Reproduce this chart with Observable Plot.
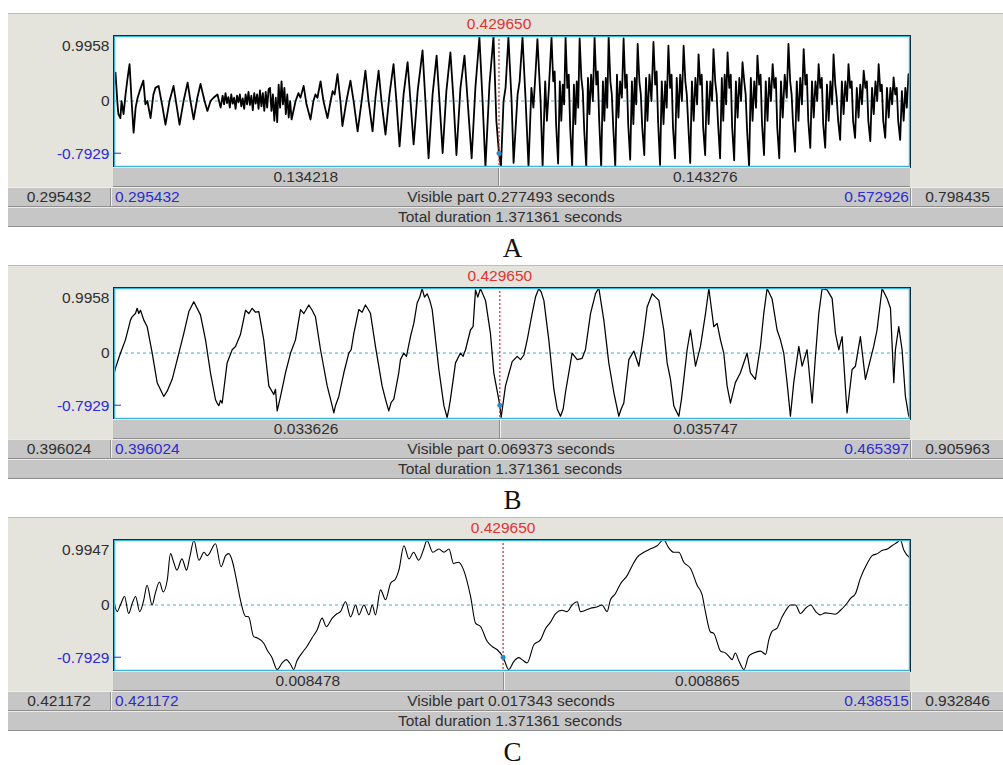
<!DOCTYPE html>
<html><head><meta charset="utf-8">
<script src="https://cdn.jsdelivr.net/npm/d3@7"></script>
<script src="https://cdn.jsdelivr.net/npm/@observablehq/plot@0.6"></script>
<style>
body{margin:0;background:#fff;width:1003px;height:765px;overflow:hidden;position:relative;font-family:"Liberation Sans",Arial,sans-serif;}
.panel{position:absolute;left:8px;width:995px;height:214px;}
.bg{position:absolute;left:0;top:0;width:995px;height:175px;background:#e4e3dc;border-top:1px solid #bdbdb4;box-sizing:border-box;}
.row{position:absolute;height:20px;background:#c6c6c6;border-bottom:1px solid #8e8e8e;border-top:1px solid #ececec;box-sizing:border-box;color:#303030;font-size:15.5px;line-height:18px;white-space:nowrap;}
.cell{position:absolute;top:0;height:18px;text-align:center;overflow:hidden;}
.sep{border-left:1px solid #8e8e8e;box-shadow:inset 1px 0 0 #f0f0f0;}
.blue{color:#2c2cd2;}
.lab{position:absolute;width:200px;text-align:center;font-family:"Liberation Serif","DejaVu Serif",serif;font-size:27px;line-height:22px;height:22px;color:#111;}
</style>
</head><body>
<script>
// ---------- data ----------
const panelNames = ["A", "B", "C"];
const visibleStart = [0.295432, 0.396024, 0.421172];
const visibleEnd = [0.572926, 0.465397, 0.438515];
const visibleDur = [0.277493, 0.069373, 0.017343];
const leftOfCursor = [0.134218, 0.033626, 0.008478];
const rightOfCursor = [0.143276, 0.035747, 0.008865];
const afterWindow = [0.798435, 0.905963, 0.932846];
const yTopLabel = [0.9958, 0.9958, 0.9947];
const yBottom = -1.01;
const cursorTime = 0.429650;
const cursorValue = -0.7929;
const totalDuration = 1.371361;

// waveform samples: [time in ms from visible start, amplitude]
const waveA = [
[0.0,0.15],[0.7,0.43],[1.4,-0.05],[1.7,-0.2],[2.4,-0.26],[2.8,0.0],[3.5,-0.2],[4.2,0.1],[4.9,0.35],[5.6,0.56],[6.3,0.0],[7.0,-0.48],[7.7,-0.1],[8.4,0.05],[9.1,0.15],[10.4,0.31],[11.1,-0.05],[11.8,0.0],[12.9,-0.26],[13.9,0.1],[14.6,0.2],[15.7,0.23],[17.1,-0.1],[18.1,-0.36],[19.5,0.0],[20.9,0.23],[21.9,-0.05],[23.0,-0.36],[24.4,0.0],[25.8,0.28],[26.8,0.0],[27.9,-0.28],[29.2,0.05],[30.3,0.26],[31.7,0.0],[32.7,-0.15],[33.8,0.0],[34.8,0.05],[36.2,0.1],[37.3,-0.1],
[38.0,0.08],[38.5,-0.05],[39.0,0.12],[39.5,-0.03],[40.0,0.06],[40.5,-0.1],[41.0,0.1],[41.5,-0.04],[42.0,0.05],[42.5,-0.12],[43.0,0.08],[43.5,-0.02],[44.0,0.1],[44.5,-0.08],[45.0,0.04],[45.5,-0.12],[46.0,0.1],[46.5,-0.05],[47.0,0.14],[47.5,-0.06],[48.0,0.08],[48.5,-0.14],[49.0,0.12],[49.5,-0.04],[50.0,0.1],[50.5,-0.12],[51.0,0.16],[51.5,-0.08],[52.0,0.12],[52.5,-0.15],[53.0,0.14],[53.5,-0.1],[54.0,0.18],
[54.5,0.2],[55.0,-0.15],[55.5,0.1],[56.0,-0.3],[56.5,0.05],[57.0,-0.32],[57.5,0.25],[58.0,-0.1],[58.5,0.3],[59.0,-0.05],[59.5,0.2],[60.0,-0.2],[60.5,0.1],[61.0,-0.25],[61.5,0.0],[62.0,-0.28],
[63.4,0.0],[64.4,0.12],[65.1,0.05],[66.2,0.23],[67.2,-0.05],[68.6,-0.28],[69.6,0.0],[70.3,0.1],[71.0,0.05],[72.1,0.3],[73.1,0.0],[74.5,-0.26],[75.6,0.0],[76.3,0.15],[77.0,0.1],[78.0,0.41],[79.0,0.0],[79.7,-0.38],[81.1,0.0],[82.5,0.31],[83.6,0.0],[85.0,-0.46],[86.4,0.0],[87.7,0.46],[88.8,0.0],[90.2,-0.46],[91.2,0.05],[92.3,0.46],[93.3,0.0],[94.7,-0.51],[96.1,0.1],[97.5,0.56],[98.5,0.0],[99.6,-0.69],[101.0,0.1],[102.4,0.59],[103.4,0.0],[104.5,-0.66],[105.9,0.15],[107.6,0.77],[108.6,0.0],[109.7,-0.87],[111.1,0.1],[112.5,0.69],[113.5,0.0],[114.6,-0.79],[115.9,0.15],[117.3,0.74],[118.4,0.0],[119.4,-0.82],[120.8,0.2],[122.2,0.69],[123.3,0.0],[124.7,-0.87],[126.0,0.2],[127.4,0.97],[128.5,0.0],[129.5,-1.0],[130.9,0.25],[132.3,0.98],[133.3,-0.3],[134.218,-0.7929],[134.9,-1.0],[135.8,0.0],[136.5,0.2],[137.5,0.97],[138.6,0.0],[139.3,-0.94],[140.7,0.1],[141.4,0.3],[142.4,0.97],[143.5,0.0],[144.5,-1.0],[145.5,0.2],[146.2,-0.1],[146.9,0.4],[147.6,0.94],[148.7,0.0],[149.4,-1.0],[150.3,0.3],[150.9,-0.3],[151.6,0.2],
[152.5,0.97],[153.1,0.3],[153.6,0.45],[154.1,-0.35],[154.8,-0.95],[155.4,0.3],[155.9,-0.3],[156.4,0.25],[156.9,-0.05],
[157.4,0.97],[158.0,0.2],[158.5,0.4],[159.0,-0.4],[159.7,-1.0],[160.3,0.25],[160.8,-0.35],[161.3,0.3],[161.8,-0.1],
[162.3,0.95],[162.9,0.35],[163.4,0.15],[163.9,-0.45],[164.6,-1.0],[165.2,0.35],[165.7,-0.2],[166.3,0.4],[166.9,0.0],
[167.5,0.97],[168.1,0.25],[168.6,0.45],[169.1,-0.3],[169.8,-1.0],[170.4,0.3],[170.9,-0.3],[171.4,0.35],[171.9,-0.1],
[172.4,0.98],[173.0,0.3],[173.5,0.1],[174.0,-0.4],[174.7,-0.99],[175.3,0.4],[175.8,-0.25],[176.4,0.3],[177.0,0.05],
[177.6,0.95],[178.2,0.2],[178.7,0.4],[179.2,-0.35],[179.9,-0.89],[180.5,0.3],[181.0,-0.35],[181.5,0.35],[182.0,-0.05],
[182.5,0.87],[183.1,0.3],[183.6,0.1],[184.1,-0.4],[184.8,-0.82],[185.4,0.35],[185.9,-0.3],[186.6,0.4],[187.3,0.0],
[188.0,0.9],[188.6,0.25],[189.1,0.45],[189.6,-0.3],[190.3,-0.97],[190.9,0.3],[191.5,-0.35],[192.1,0.3],[192.6,-0.1],
[193.2,0.84],[193.8,0.2],[194.3,0.4],[194.8,-0.4],[195.5,-0.87],[196.1,0.35],[196.7,-0.25],[197.3,0.4],[197.9,0.0],
[198.5,0.84],[199.1,0.3],[199.6,0.1],[200.1,-0.35],[200.8,-0.94],[201.4,0.3],[202.0,-0.3],[202.6,0.35],[203.2,-0.05],
[203.7,0.71],[204.3,0.25],[204.8,0.4],[205.3,-0.4],[206.0,-0.82],[206.6,0.3],[207.2,-0.35],[207.8,0.3],[208.4,0.0],
[208.9,0.79],[209.5,0.3],[210.0,0.1],[210.5,-0.35],[211.2,-0.87],[211.8,0.35],[212.3,-0.3],[212.8,0.4],[213.3,-0.05],
[213.8,0.74],[214.4,0.2],[214.9,0.4],[215.4,-0.4],[216.1,-0.9],[216.7,0.3],[217.3,-0.25],[217.9,0.35],[218.5,0.0],
[219.0,0.59],[219.6,0.3],[220.1,0.1],[220.6,-0.45],[221.3,-1.0],[221.9,0.35],[222.5,-0.3],[223.1,0.3],[223.7,-0.1],
[224.2,0.69],[224.8,0.25],[225.3,0.4],[225.8,-0.35],[226.5,-0.82],[227.1,0.3],[227.7,-0.3],[228.3,0.35],[228.9,0.0],
[229.5,0.56],[230.1,0.2],[230.6,0.35],[231.1,-0.4],[231.8,-0.87],[232.4,0.3],[233.0,-0.25],[233.7,0.4],[234.4,0.05],
[235.0,0.87],[235.6,0.3],[236.1,0.1],[236.6,-0.35],[237.3,-0.77],[237.9,0.3],[238.5,-0.3],[239.1,0.35],[239.7,-0.05],
[240.3,0.79],[240.9,0.25],[241.4,0.4],[241.9,-0.3],[242.6,-0.71],[243.2,0.3],[243.8,-0.25],[244.4,0.3],[245.0,0.0],
[245.5,0.56],[246.1,0.2],[246.6,0.35],[247.1,-0.35],[247.8,-0.71],[248.4,0.25],[249.0,-0.3],[249.6,0.3],[250.2,-0.05],
[250.7,0.71],[251.3,0.25],[251.8,0.05],[252.3,-0.3],[253.0,-0.59],[253.6,0.3],[254.2,-0.2],[254.8,0.3],[255.4,0.0],
[255.9,0.56],[256.5,0.2],[257.0,0.3],[257.5,-0.3],[258.2,-0.56],[258.8,0.2],[259.4,-0.25],[260.0,0.25],[260.6,-0.05],
[261.2,0.46],[261.8,0.2],[262.3,0.3],[262.8,-0.3],[263.5,-0.61],[264.1,0.2],[264.7,-0.2],[265.3,0.3],[265.9,0.0],
[266.4,0.56],[267.0,0.15],[267.5,0.25],[268.0,-0.3],[268.7,-0.56],[269.3,0.2],[269.9,-0.25],[270.5,0.2],[271.1,-0.05],
[271.6,0.36],[272.2,0.1],[272.7,0.2],[273.2,-0.3],[273.9,-0.59],[274.5,0.15],[275.1,-0.3],[275.7,0.2],[276.2,-0.1],
[276.8,0.41],[277.49,0.35]
];

const waveB = [
[0.0,-0.35],[0.17,-0.23],[0.61,0.0],[1.04,0.2],[1.48,0.5],[1.62,0.55],[1.91,0.6],[2.06,0.68],[2.2,0.6],[2.35,0.65],[2.64,0.5],[2.93,0.4],[3.37,0.0],[3.8,-0.45],[4.38,-0.66],[4.67,-0.58],[5.11,-0.4],[5.69,0.0],[6.12,0.3],[6.56,0.63],[6.99,0.78],[7.57,0.58],[8.01,0.2],[8.44,-0.3],[8.88,-0.71],[9.02,-0.76],[9.17,-0.8],[9.31,-0.72],[9.46,-0.76],[9.89,-0.15],[10.33,0.05],[10.62,0.1],[11.05,0.28],[11.49,0.65],[11.78,0.6],[12.07,0.68],[12.36,0.62],[12.65,0.63],[13.08,0.2],[13.52,-0.5],[13.95,-0.63],[14.1,-0.55],[14.25,-0.88],[14.54,-0.66],[14.97,-0.3],[15.41,0.0],[15.84,0.2],[16.28,0.66],[16.57,0.6],[17.0,0.73],[17.29,0.65],[17.58,0.55],[18.02,0.05],[18.6,-0.5],[18.89,-0.7],[19.18,-0.91],[19.32,-0.8],[19.61,-0.66],[20.05,-0.3],[20.48,0.0],[20.69,0.05],[20.92,0.3],[21.35,0.66],[21.64,0.62],[21.93,0.73],[22.22,0.65],[22.37,0.6],[22.8,0.1],[23.38,-0.5],[23.67,-0.7],[23.96,-0.88],[24.17,-0.75],[24.4,-0.7],[24.83,-0.3],[24.98,-0.1],[25.27,0.0],[25.5,-0.05],[25.85,0.25],[26.14,0.45],[26.43,0.76],[26.66,0.85],[26.86,0.98],[27.07,0.85],[27.3,0.9],[27.53,0.8],[27.74,0.66],[28.32,-0.25],[28.76,-0.8],[29.04,-0.98],[29.19,-0.85],[29.33,-0.7],[29.77,-0.15],[30.2,0.0],[30.43,-0.05],[30.64,0.05],[31.07,0.35],[31.3,0.4],[31.51,0.96],[31.71,0.85],[31.94,0.98],[32.18,0.88],[32.38,0.8],[32.81,0.3],[33.1,-0.3],[33.626,-0.7929],[33.74,-0.98],[34.12,-0.5],[34.7,-0.13],[35.14,-0.05],[35.43,-0.1],[35.72,-0.03],[36.01,0.2],[36.44,0.6],[36.73,0.85],[37.02,0.98],[37.22,0.93],[37.46,0.8],[37.89,0.2],[38.33,-0.55],[38.62,-0.85],[38.91,-0.96],[39.14,-0.85],[39.34,-0.6],[39.92,0.0],[40.36,-0.1],[40.79,-0.08],[41.08,0.05],[41.52,0.6],[41.95,0.9],[42.24,0.99],[42.68,0.5],[43.11,-0.15],[43.55,-0.6],[43.98,-0.96],[44.19,-0.85],[44.42,-0.76],[44.86,-0.1],[45.29,0.03],[45.73,-0.2],[46.16,0.3],[46.45,0.7],[46.89,0.9],[47.18,0.85],[47.47,0.8],[47.9,0.35],[48.19,-0.15],[48.48,-0.4],[48.77,-0.8],[48.92,-0.86],[49.21,-0.96],[49.44,-0.7],[49.64,-0.4],[49.93,0.05],[50.22,0.35],[50.66,-0.2],[51.09,0.1],[51.53,0.6],[51.82,0.98],[52.25,0.4],[52.54,0.45],[52.83,0.2],[53.12,0.0],[53.41,-0.5],[53.7,-0.76],[54.13,-0.45],[54.57,-0.3],[55.15,0.0],[55.44,-0.3],[55.87,-0.4],[56.31,0.1],[56.6,0.6],[56.89,0.98],[57.33,0.82],[57.76,0.35],[58.05,0.2],[58.34,0.0],[58.63,-0.45],[58.92,-0.96],[59.21,-0.45],[59.65,0.1],[59.94,-0.2],[60.37,0.05],[60.81,-0.76],[61.1,-0.05],[61.39,0.6],[61.68,0.98],[62.11,0.96],[62.55,0.83],[62.84,0.3],[63.13,0.05],[63.42,0.25],[63.85,-0.91],[64.29,-0.25],[64.58,-0.2],[65.01,0.25],[65.45,-0.4],[65.88,-0.1],[66.17,0.1],[66.46,0.35],[66.9,0.98],[67.33,0.83],[67.63,0.68],[67.92,-0.45],[68.06,0.05],[68.35,0.4],[68.64,0.05],[68.93,-0.66],[69.22,-0.96],[69.373,-0.9]
];

const waveC = [
[0.0,0.08],[0.08,-0.1],[0.15,0.0],[0.24,0.13],[0.33,-0.13],[0.41,0.03],[0.48,0.13],[0.57,-0.1],[0.66,0.08],[0.73,0.3],[0.84,0.0],[0.91,0.18],[1.0,0.35],[1.08,0.2],[1.17,0.38],[1.24,0.78],[1.31,0.65],[1.38,0.53],[1.49,0.7],[1.59,0.53],[1.66,0.73],[1.75,0.98],[1.86,0.68],[1.97,0.8],[2.04,0.75],[2.22,0.93],[2.34,0.58],[2.44,0.75],[2.51,0.78],[2.58,0.68],[2.69,0.33],[2.76,0.08],[2.87,-0.17],[2.94,-0.18],[3.05,-0.48],[3.13,-0.5],[3.27,-0.58],[3.34,-0.68],[3.45,-0.8],[3.56,-0.98],[3.67,-0.88],[3.76,-0.83],[3.85,-0.9],[3.92,-0.98],[3.99,-0.85],[4.1,-0.73],[4.21,-0.63],[4.32,-0.5],[4.43,-0.38],[4.54,-0.2],[4.63,-0.33],[4.76,-0.2],[4.87,-0.13],[4.94,-0.1],[5.05,0.05],[5.16,-0.18],[5.27,0.0],[5.34,-0.15],[5.45,0.0],[5.56,-0.15],[5.63,0.0],[5.7,-0.15],[5.81,0.23],[5.92,0.08],[6.03,0.33],[6.14,0.4],[6.21,0.53],[6.32,0.9],[6.43,0.7],[6.53,0.8],[6.64,0.68],[6.75,0.85],[6.82,0.98],[6.95,0.8],[7.08,0.85],[7.19,0.8],[7.3,0.85],[7.4,0.63],[7.51,0.65],[7.62,0.53],[7.77,0.13],[7.88,-0.28],[7.99,-0.33],[8.13,-0.55],[8.24,-0.63],[8.35,-0.68],[8.478,-0.7929],[8.6,-0.98],[8.71,-0.86],[8.82,-0.8],[8.89,-0.83],[9.0,-0.88],[9.15,-0.6],[9.29,-0.53],[9.4,-0.36],[9.51,-0.26],[9.62,-0.13],[9.76,-0.08],[9.87,-0.1],[9.98,0.0],[10.09,0.05],[10.16,-0.1],[10.27,-0.08],[10.38,-0.05],[10.52,-0.03],[10.63,0.0],[10.74,-0.1],[10.81,0.07],[10.92,0.17],[11.03,0.32],[11.18,0.45],[11.29,0.6],[11.39,0.72],[11.54,0.8],[11.68,0.85],[11.83,0.9],[11.97,0.99],[12.08,0.87],[12.19,0.8],[12.3,0.8],[12.41,0.65],[12.56,0.55],[12.7,0.3],[12.81,0.15],[12.88,-0.1],[12.99,-0.41],[13.06,-0.43],[13.21,-0.7],[13.32,-0.73],[13.39,-0.78],[13.46,-0.83],[13.53,-0.73],[13.61,-0.85],[13.72,-0.98],[13.82,-0.78],[13.93,-0.73],[14.08,-0.7],[14.19,-0.75],[14.26,-0.53],[14.33,-0.4],[14.44,-0.35],[14.55,-0.18],[14.66,-0.05],[14.73,0.0],[14.84,0.0],[14.95,-0.13],[15.06,-0.05],[15.17,0.0],[15.28,-0.1],[15.38,-0.15],[15.49,-0.12],[15.6,-0.13],[15.71,-0.14],[15.82,-0.08],[15.93,0.0],[16.04,0.1],[16.15,0.18],[16.25,0.4],[16.4,0.63],[16.51,0.75],[16.62,0.78],[16.73,0.83],[16.84,0.85],[16.94,0.9],[17.05,0.95],[17.12,0.99],[17.2,0.83],[17.31,0.73],[17.343,0.72]
];

const waves = [waveA, waveB, waveC];
const curves = ["linear", "linear", "monotone-x"];
const lineWidths = [1.8, 1.25, 1.1];

// ---------- layout ----------
const panelTop = [13, 265, 517];
const RED = "#e03434", BLUE = "#2c2cd2", TXT = "#303030";
const fmt6 = d => d.toFixed(6);

panelNames.forEach((name, i) => {
  const top = panelTop[i];
  const panel = document.createElement("div");
  panel.className = "panel";
  panel.style.top = top + "px";
  document.body.appendChild(panel);

  const bg = document.createElement("div");
  bg.className = "bg";
  panel.appendChild(bg);

  const dur = visibleDur[i] * 1000;
  const cMs = leftOfCursor[i] * 1000;
  const data = waves[i].map(([t, v]) => ({t, v}));

  const plot = Plot.plot({
    width: 995, height: 157,
    marginLeft: 105, marginRight: 93, marginTop: 22, marginBottom: 3,
    x: {domain: [0, dur], axis: null},
    y: {domain: [yBottom, yTopLabel[i]], axis: null},
    style: {background: "transparent", fontFamily: '"Liberation Sans", Arial, sans-serif', fontSize: "15.5px", color: TXT, overflow: "visible"},
    marks: [
      Plot.frame({fill: "white"}),
      Plot.ruleY([0], {stroke: "#3aaed8", strokeWidth: 1, strokeDasharray: "3,3"}),
      Plot.line(data, {x: "t", y: "v", stroke: "#000", strokeWidth: lineWidths[i], curve: curves[i], clip: true}),
      Plot.ruleX([cMs], {x: d => d, stroke: RED, strokeWidth: 1.3, strokeDasharray: "2,2"}),
      Plot.dot([{t: cMs, v: cursorValue}], {x: "t", y: "v", r: 2.5, fill: "#1f8fd0"}),
      Plot.frame({stroke: "#3cb4dc", strokeWidth: 1.5, inset: 1}),
      Plot.frame({stroke: "#0d2f40", strokeWidth: 1}),
      Plot.tickY([cursorValue], {y: d => d, stroke: BLUE, strokeWidth: 1, insetRight: 789}),
      Plot.text([yTopLabel[i]], {y: d => d, frameAnchor: "left", textAnchor: "end", lineAnchor: "middle", dx: -4, dy: 11, text: d => d.toFixed(4), fill: TXT, fontSize: 15.5}),
      Plot.text([0], {y: d => d, frameAnchor: "left", textAnchor: "end", lineAnchor: "middle", dx: -4, text: () => "0", fill: TXT, fontSize: 15.5}),
      Plot.text([cursorValue], {y: d => d, frameAnchor: "left", textAnchor: "end", lineAnchor: "middle", dx: -4, dy: 1, text: d => d.toFixed(4), fill: BLUE, fontSize: 15.5}),
      Plot.text([cMs], {x: d => d, frameAnchor: "top", lineAnchor: "middle", dy: -11, text: () => fmt6(cursorTime), fill: RED, fontSize: 15.5})
    ]
  });
  plot.style.position = "absolute";
  plot.style.left = "0px";
  plot.style.top = "0px";
  panel.appendChild(plot);

  const xs = plot.scale("x");
  const x0 = xs.apply(0), x1 = xs.apply(dur), xc = xs.apply(cMs);

  // row 1: parts left/right of the cursor
  const r1 = document.createElement("div");
  r1.className = "row";
  r1.style.left = x0 + "px"; r1.style.width = (x1 - x0) + "px"; r1.style.top = "154px";
  r1.innerHTML =
    `<div class="cell" style="left:0;width:${xc - x0}px">${fmt6(leftOfCursor[i])}</div>` +
    `<div class="cell sep" style="left:${xc - x0}px;width:${x1 - xc}px">${fmt6(rightOfCursor[i])}</div>`;
  panel.appendChild(r1);

  // row 2: window times
  const r2 = document.createElement("div");
  r2.className = "row";
  r2.style.left = "0px"; r2.style.width = "995px"; r2.style.top = "174px";
  r2.innerHTML =
    `<div class="cell" style="left:0;width:${x0 - 3}px">${fmt6(visibleStart[i])}</div>` +
    `<div class="cell sep" style="left:${x0 - 3}px;width:${x1 - x0 + 3}px">` +
      `<span class="blue" style="position:absolute;left:4px">${fmt6(visibleStart[i])}</span>` +
      `Visible part ${fmt6(visibleDur[i])} seconds` +
      `<span class="blue" style="position:absolute;right:2px">${fmt6(visibleEnd[i])}</span></div>` +
    `<div class="cell sep" style="left:${x1}px;width:${995 - x1}px">${fmt6(afterWindow[i])}</div>`;
  panel.appendChild(r2);

  // row 3: total duration
  const r3 = document.createElement("div");
  r3.className = "row";
  r3.style.left = "0px"; r3.style.width = "995px"; r3.style.top = "194px";
  r3.innerHTML = `<div class="cell" style="left:${x0 - 3}px;width:${x1 - x0 + 3}px">Total duration ${fmt6(totalDuration)} seconds</div>`;
  panel.appendChild(r3);

  // panel letter
  const lab = document.createElement("div");
  lab.className = "lab";
  lab.textContent = name;
  lab.style.left = (8 + (x0 + x1) / 2 - 100 + 1) + "px";
  lab.style.top = (top + 224) + "px";
  document.body.appendChild(lab);
});
</script>
</body></html>
